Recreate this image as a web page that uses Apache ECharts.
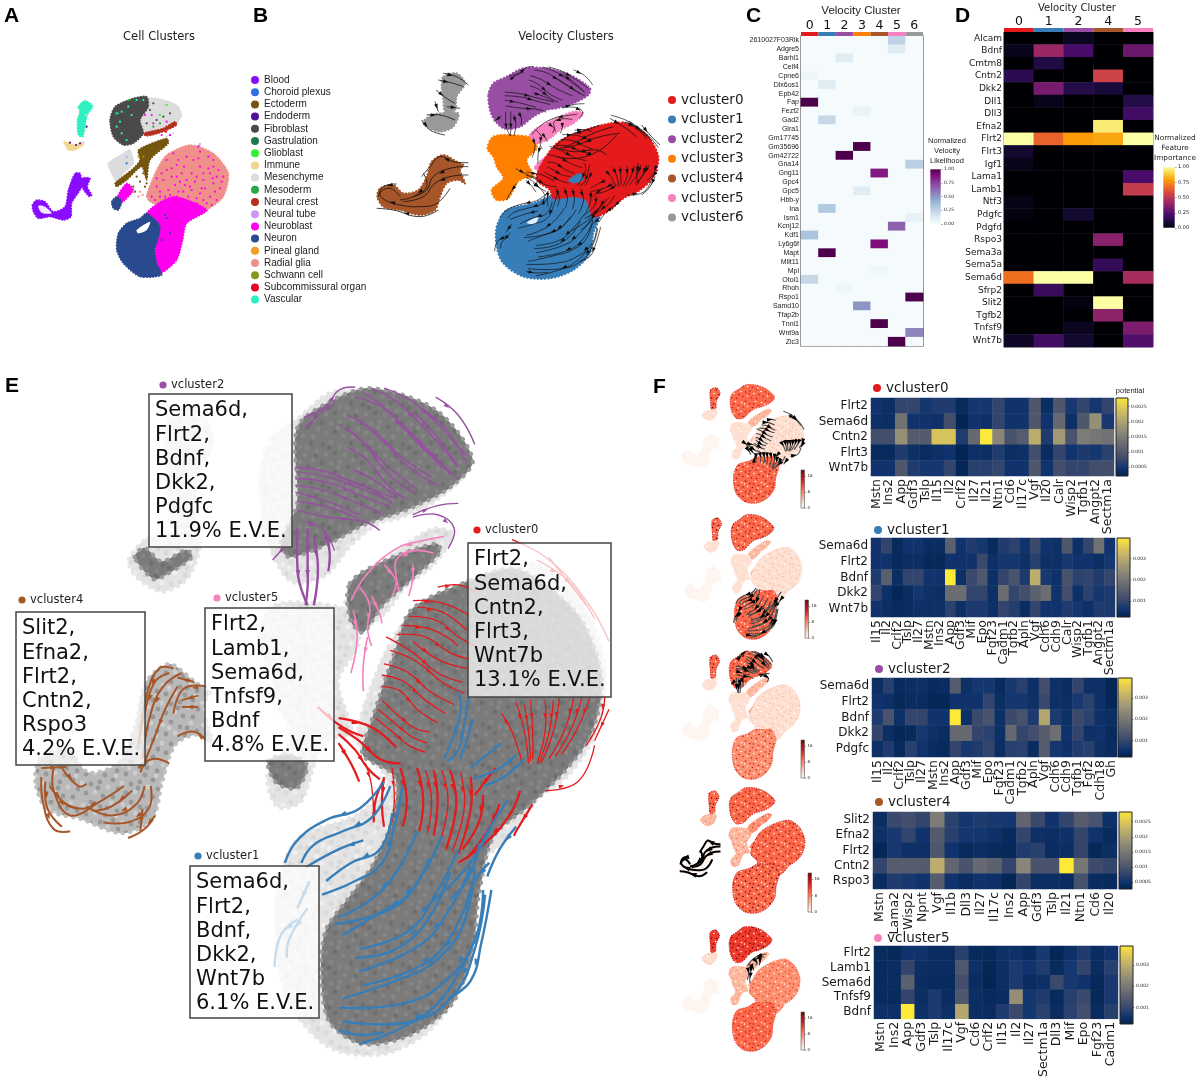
<!DOCTYPE html>
<html><head><meta charset="utf-8">
<style>html,body{margin:0;padding:0;background:#fff}#c{width:1200px;height:1080px}</style>
<script src="https://cdn.jsdelivr.net/npm/echarts@6/dist/echarts.min.js"></script>
</head><body><div id="c"></div>
<script>
// ---------- data ----------
const clusterNames=['vcluster0','vcluster1','vcluster2','vcluster3','vcluster4','vcluster5','vcluster6'];
const clusterColors=['#e41a1c','#377eb8','#984ea3','#ff7f00','#a65628','#f781bf','#999999'];
const cellTypes=['Blood','Choroid plexus','Ectoderm','Endoderm','Fibroblast','Gastrulation','Glioblast','Immune','Mesenchyme','Mesoderm','Neural crest','Neural tube','Neuroblast','Neuron','Pineal gland','Radial glia','Schwann cell','Subcommissural organ','Vascular'];
const cellColors=['#8a0cff','#2f6fe8','#75560f','#55109a','#4a4a4a','#1f7a4f','#35ee35','#f3d68f','#dcdcdc','#2ca548','#b5301f','#cc99ee','#ff00ee','#2a4a8f','#f0a020','#ef918a','#7f9a20','#e8002a','#2ff0c0'];
// panel A outlines
const aVascular=[[235,320],[255,302],[278,318],[262,345],[255,380],[248,410],[235,405],[232,360],[240,335]];
const aImmune=[[192,425],[205,428],[225,435],[250,425],[252,432],[225,450],[205,450]];
const aBlood=[[97,615],[110,600],[135,605],[160,635],[195,620],[205,570],[225,520],[240,520],[245,560],[215,610],[213,650],[190,660],[150,650],[115,655],[100,635]];
const aBloodBranch=[[245,535],[270,535],[262,560],[275,585],[268,590],[248,565]];
const aBloodHole=[[115,618],[135,620],[155,640],[125,638]];
const aMesenTop=[[420,300],[470,295],[530,315],[545,345],[525,375],[470,395],[430,405],[400,380],[420,340]];
const aFibro=[[330,360],[345,320],[400,295],[440,290],[445,320],[420,360],[430,400],[400,430],[370,435],[340,410]];
const aCrest=[[430,400],[490,385],[525,365],[530,375],[490,395],[440,408]];
const aMesenLow=[[325,490],[370,460],[390,450],[400,490],[370,520],[350,545],[330,510]];
const aEcto=[[345,550],[400,505],[420,480],[415,450],[500,415],[505,430],[450,480],[440,540],[425,500],[380,540],[350,560]];
const aNeuroSmall=[[350,595],[380,550],[400,570],[375,600],[360,610]];
const aNeuronSmall=[[335,605],[350,590],[365,605],[355,630],[340,625]];
const aGlia=[[440,585],[470,510],[500,465],[570,435],[640,460],[685,520],[670,590],[620,630],[560,650],[520,620],[460,610],[445,600]];
const aNeuroBig=[[440,640],[520,590],[620,630],[560,670],[548,720],[530,780],[480,820],[465,780],[470,700]];
const aNeuron=[[355,700],[380,670],[420,655],[440,640],[480,680],[465,750],[470,790],[485,825],[420,830],[370,790],[350,750]];
const aNeuronHole=[[410,690],[450,665],[440,690],[415,700]];
const cellDots={
 'Blood':[[268,580],[272,585],[250,540],[262,545]],
 'Choroid plexus':[[380,490],[510,405]],
 'Ectoderm':[[420,545],[430,520],[435,560],[400,560],[440,550],[410,530],[405,575]],
 'Endoderm':[[210,428],[240,430],[228,435],[260,380]],
 'Fibroblast':[[450,330],[470,360],[490,350],[440,370],[510,340],[460,310]],
 'Gastrulation':[[405,305],[420,300],[375,335],[345,345]],
 'Glioblast':[[480,345],[385,300],[500,315]],
 'Immune':[[258,345]],
 'Mesenchyme':[[500,410],[520,400]],
 'Mesoderm':[[355,340],[480,370],[460,380]],
 'Neural crest':[[440,400],[470,395],[500,380],[520,370],[490,388],[510,375]],
 'Neural tube':[[597,437],[600,432],[380,470]],
 'Neuroblast':[[500,480],[530,495],[560,470],[600,455],[625,470],[640,480],[655,510],[630,520],[600,500],[575,520],[545,520],[515,530],[490,540],[470,560],[505,570],[540,545],[570,560],[610,540],[640,550],[660,565],[630,590],[600,580],[565,590],[530,590],[500,600],[480,590],[455,590],[590,610],[620,610],[650,600],[545,610],[595,440],[520,460],[610,520],[585,545],[550,575],[525,555],[470,535],[650,530],[670,530],[615,565],[580,480],[455,345],[460,370],[435,345],[500,365],[485,405],[510,405],[535,480],[552,500],[590,530],[625,505],[638,535],[605,565],[590,595],[575,570],[555,555],[535,575],[520,600],[510,585],[495,590],[480,575],[465,600],[540,600],[555,620],[575,625],[600,622],[635,615],[610,600],[645,575],[665,545],[640,500],[560,540],[530,530],[500,510],[485,520],[515,505],[595,475]],
 'Neuron':[[500,655],[495,645],[510,700],[485,720]],
 'Pineal gland':[[415,470]],
 'Radial glia':[[420,575],[428,585],[415,590],[400,575]],
 'Schwann cell':[[430,470]],
 'Subcommissural organ':[[498,395]],
 'Vascular':[[350,340],[365,335],[385,320],[410,300],[360,365],[395,345],[365,400],[380,420],[430,300],[350,380]]
};
// shared embedding outlines
const regGrayTop=[[250,170],[290,160],[315,190],[290,230],[285,270],[255,275],[250,240],[245,200]];
const regGrayLow=[[240,280],[295,280],[280,320],[240,335],[200,320],[190,305],[215,285]];
const regBrown=[[52,530],[60,505],[100,495],[130,520],[175,510],[200,470],[215,425],[250,405],[290,425],[310,435],[300,450],[315,490],[295,480],[260,490],[240,530],[225,570],[180,585],[120,570],[70,560]];
const regPurple=[[385,225],[400,190],[440,170],[490,145],[560,145],[630,165],[690,205],[685,225],[640,250],[590,265],[560,270],[520,290],[480,320],[430,325],[395,285]];
const regPink=[[510,345],[530,325],[590,295],[640,275],[670,280],[640,310],[600,330],[570,355],[530,370]];
const regPinkSmall=[[525,440],[560,410],[565,430],[530,450]];
const regOrange=[[382,385],[400,350],[450,345],[520,355],[530,385],[500,420],[520,470],[490,475],[470,490],[445,535],[410,540],[395,510],[430,475],[410,440],[400,410]];
const regRed=[[540,440],[590,370],[660,335],[750,310],[800,310],[860,345],[895,410],[880,470],[840,510],[790,535],[750,570],[700,590],[680,540],[640,530],[580,535],[570,510],[530,480]];
const regBlue=[[410,620],[440,570],[520,550],[570,530],[640,530],[690,530],[720,580],[700,640],[690,700],[640,750],[570,775],[490,770],[430,730],[410,680]];
const regBlueIsland=[[625,480],[660,460],[670,480],[640,490]];
const regHole=[[500,608],[535,590],[525,612]];
// panel E darker cell masses
const darkPurple=[[439,179],[487,154],[548,141],[645,162],[699,209],[669,234],[609,255],[536,272],[487,289],[427,302],[415,289],[439,251]];
const darkPink=[[517,327],[566,306],[645,289],[651,297],[609,323],[566,348],[536,374],[517,361]];
const darkGray=[[199,302],[214,293],[239,306],[275,295],[284,302],[245,319],[227,323]];
const darkTip=[[396,496],[427,490],[454,500],[439,522],[408,517]];
const darkMain=[[584,391],[608,352],[687,326],[760,313],[820,335],[863,365],[890,417],[875,469],[839,503],[784,538],[730,568],[708,624],[699,675],[669,727],[608,757],[536,766],[487,745],[475,703],[481,658],[518,624],[548,598],[578,555],[584,512],[536,490],[548,460],[566,425]];
// streamlines of panel B and thumbnails
const streamsRed=[[[750,295],[790,320],[830,350]],[[845,315],[870,345],[900,375]],[[800,305],[830,325],[860,355]],[[720,315],[680,330],[630,345],[590,375]],[[760,320],[700,340],[640,370],[600,385]],[[780,340],[720,350],[650,375],[610,385]],[[580,380],[640,395],[710,390],[740,405]],[[770,345],[720,390],[650,415],[590,410]],[[860,435],[845,470],[830,495]],[[835,430],[830,465],[835,490]],[[885,470],[870,500],[845,525]]];
const streamsBrown=[[[325,428],[280,425],[240,410],[210,440],[185,470]],[[325,440],[270,445],[220,470],[200,510],[160,530]],[[325,465],[270,470],[225,490],[190,530],[130,545]],[[270,505],[230,550],[180,560],[120,555],[75,540],[60,520],[90,505],[120,530]],[[235,570],[180,590],[100,570],[50,565]],[[110,492],[70,500],[55,530]],[[190,460],[200,500],[160,530],[120,540]]];
const streamsGray=[[[250,160],[290,170],[325,195]],[[235,180],[280,190],[310,200]],[[228,210],[260,235],[285,250]],[[225,245],[235,275]],[[185,300],[210,330],[255,345]],[[200,285],[240,285],[285,300]],[[260,260],[300,265]]];
const streamsOrange=[[[470,490],[450,520],[440,540]],[[520,490],[540,505],[555,525]]];
// streamlines
const ePurple=[[[930,40],[1000,70],[1060,120],[1130,190]],[[1055,60],[1110,100],[1150,165]],[[900,40],[960,70],[1030,130],[1110,215]],[[860,60],[930,85],[1000,150],[1090,225]],[[840,100],[900,130],[970,190],[1050,240]],[[835,130],[880,160],[940,230],[1000,270]],[[840,170],[890,200],[940,255],[980,285]],[[855,220],[900,240],[960,280]],[[960,110],[1030,170],[1070,210],[1110,240]],[[1000,90],[1060,150],[1110,215]],[[715,215],[790,225],[860,250],[960,285]],[[715,240],[800,250],[880,280],[940,300]],[[715,270],[790,290],[870,320]],[[720,310],[790,325],[880,335],[920,355]],[[1000,320],[1060,300],[1110,295]],[[1000,325],[1060,320],[1100,350],[1085,395]],[[735,105],[790,80],[820,45],[860,38]],[[740,130],[770,100],[810,75]],[[700,380],[660,420]]];
const ePurpleExtra=[[[880,50],[940,90],[1010,160],[1070,215]],[[820,120],[870,150],[930,205],[1010,265]],[[1020,85],[1080,130],[1130,205]],[[870,110],[930,160],[990,215],[1060,255]],[[845,245],[900,265],[950,295]],[[715,225],[800,238],[880,265],[950,292]],[[715,255],[800,270],[880,300],[930,320]],[[720,290],[800,305],[870,330]],[[730,335],[780,350],[810,400]],[[990,135],[1050,190],[1090,230]]];
const ePurpleThick=[[[720,350],[720,430],[725,470],[745,520]],[[745,350],[745,420],[745,480],[740,520]],[[760,370],[770,440],[760,520]],[[785,355],[798,400],[795,445]]];
const ePink=[[[1075,368],[1020,378],[960,395],[890,450],[850,510]],[[1050,405],[1000,400],[960,420],[960,470],[950,500]],[[1000,430],[1000,460],[990,500]],[[930,430],[960,465],[965,490]],[[870,480],[895,520],[890,570],[900,610]],[[900,500],[920,540],[925,560]],[[855,530],[865,590],[850,670]],[[890,590],[880,650],[880,710]]];
const eRed=[[[1000,510],[1070,515],[1140,545]],[[990,545],[1060,555],[1110,590],[1150,610]],[[960,585],[1030,590],[1090,625],[1140,640]],[[935,590],[1000,625],[1060,670],[1120,690]],[[930,650],[990,670],[1040,710],[1100,740]],[[925,700],[970,710],[1010,750],[1060,780]],[[925,730],[960,760],[1000,790],[1040,800]],[[910,770],[950,800],[990,830],[1030,845]],[[1060,480],[1110,475],[1150,490]],[[1240,375],[1330,420],[1420,510],[1475,600]],[[1300,420],[1380,470],[1440,550]],[[1330,415],[1420,520]],[[1215,760],[1240,800],[1265,870]],[[1250,735],[1270,800],[1280,870]],[[1285,730],[1290,800],[1290,860]],[[1320,730],[1320,800],[1300,870]],[[1355,725],[1340,800],[1310,870]],[[1390,720],[1370,790],[1330,860]],[[1430,720],[1400,790],[1360,850]],[[1465,720],[1455,770],[1420,830]],[[1475,750],[1440,820]],[[1320,930],[1400,910],[1440,830]]];
const eRedExtra=[[[1010,525],[1070,535],[1130,575]],[[975,565],[1050,575],[1110,610]],[[945,620],[1010,645],[1070,690],[1125,715]],[[925,675],[980,690],[1030,730],[1080,760]],[[1000,600],[1060,640],[1130,660]],[[915,750],[955,780],[995,810],[1035,825]],[[1270,740],[1280,800],[1285,865]],[[1340,730],[1330,800],[1305,870]],[[1410,720],[1385,790],[1345,855]],[[885,870],[900,920],[905,1000]],[[950,880],[955,950],[950,1000]],[[1030,885],[1045,950],[1035,1025]],[[1070,885],[1085,955],[1065,1045]],[[1115,890],[1125,965],[1095,1065]]];
const eRedThick=[[[820,790],[870,820],[920,860],[970,870]],[[820,805],[860,840],[890,880],[920,905]],[[820,825],[850,870],[870,910]],[[820,770],[900,790],[960,835]],[[770,745],[830,790],[880,810]],[[905,1000],[910,950],[930,905]],[[930,900],[925,960],[930,1010]],[[970,880],[985,950],[975,1010]],[[1010,880],[1025,950],[1015,1020]],[[1050,885],[1060,950],[1050,1030]],[[1090,885],[1105,960],[1080,1060]],[[1140,900],[1140,970],[1110,1070]],[[1170,940],[1160,1000],[1120,1060]],[[1210,960],[1180,1020],[1130,1080]],[[1260,930],[1230,990],[1170,1050],[1110,1090]],[[1290,960],[1250,1020],[1245,1030]],[[1200,880],[1150,940]]];
const eBlueShort=[[[1110,710],[1115,760],[1090,830],[1075,860]],[[1135,720],[1125,780],[1110,840],[1085,865]],[[1145,770],[1130,820],[1115,860]],[[1215,825],[1180,850],[1140,880]],[[1250,850],[1210,880],[1145,905]],[[1270,860],[1220,900],[1170,920]]];
const eBlue=[[[930,910],[870,970],[790,995],[720,1040],[690,1090]],[[945,920],[900,990],[830,1020],[760,1050],[730,1090]],[[880,1040],[820,1060],[740,1100]],[[950,980],[920,1060],[850,1090],[790,1130]],[[975,920],[955,1010],[925,1090],[860,1130],[780,1160]],[[1010,1020],[960,1110],[900,1170],[820,1210]],[[1070,1030],[1020,1120],[950,1190],[810,1225]],[[1110,1060],[1060,1150],[990,1240],[870,1280]],[[1140,1100],[1090,1190],[1020,1270],[870,1330]],[[1150,1100],[1120,1230],[1050,1310],[960,1350],[830,1390]],[[1170,1150],[1150,1260],[1080,1350],[980,1400],[820,1410]],[[1175,1160],[1150,1280],[1100,1380],[1000,1440],[830,1440]],[[1130,1300],[1060,1400],[960,1460],[870,1490]],[[1190,1150],[1165,1270],[1140,1350],[1085,1390]],[[1250,1010],[1210,1060],[1180,1120]],[[1230,950],[1170,1040],[1130,1130],[1090,1170]],[[1185,1090],[1150,1130],[1130,1180]],[[820,1460],[870,1470],[930,1465]],[[1190,1010],[1130,1100],[1040,1180]],[[750,1130],[720,1190]],[[720,1215],[680,1250],[665,1320]],[[745,1190],[700,1260],[695,1300]],[[1040,1080],[990,1160],[920,1200],[830,1250]],[[1090,1110],[1040,1210],[960,1280],[860,1300]],[[1130,1180],[1070,1280],[990,1330],[880,1360]]];
const eBrown=[[[420,660],[385,660],[355,720],[340,800]],[[440,670],[395,700],[365,760],[345,860]],[[430,700],[400,750],[375,810],[340,890]],[[500,700],[445,705],[420,760]],[[480,720],[440,730]],[[480,745],[440,745]],[[500,820],[470,800],[430,810]],[[470,690],[430,680]],[[300,920],[250,950],[200,970],[150,955]],[[350,920],[330,960],[270,985],[210,965]],[[365,920],[360,970],[310,1000],[250,1000]],[[375,985],[350,1015],[310,1035]],[[345,970],[340,1020]],[[100,900],[105,960],[130,1015],[170,1020]],[[130,880],[130,930],[170,985],[230,960]],[[150,880],[190,920],[210,915]],[[120,920],[160,960],[190,970]],[[100,880],[160,878]],[[335,880],[370,860],[410,870]],[[410,670],[375,690],[350,760],[335,830]],[[320,930],[270,965],[225,975]],[[110,910],[115,970],[150,1010]]];
// C heatmap
const cGenes=['2610027F03Rik','Adgre5','Barhl1','Celf4','Cpne6','Dlx6os1','Epb42','Fap','Fezf2','Gad2','Glra1','Gm17745','Gm35696','Gm42722','Gna14','Gng11','Gpc4','Gpc5','Hbb-y','Ina','Ism1','Kcnj12','Kdf1','Ly6g6f','Mapt','Mllt11','Mpl','Otol1','Rhoh','Rspo1','Samd10','Tfap2b','Tnni1','Wnt9a','Zic3'];
const cColumns=['0','1','2','3','4','5','6'];
const cNonZero=[['2610027F03Rik',5,.25],['Adgre5',5,.12],['Barhl1',2,.12],['Cpne6',0,.04],['Dlx6os1',1,.12],['Fap',0,1],['Fezf2',3,.07],['Gad2',1,.22],['Gm35696',3,1],['Gm42722',2,1],['Gna14',6,.27],['Gng11',4,.85],['Gpc5',3,.12],['Ina',1,.3],['Ism1',6,.08],['Kcnj12',5,.65],['Kdf1',0,.33],['Ly6g6f',4,.88],['Mapt',1,1],['Mpl',4,.03],['Otol1',0,.22],['Rhoh',2,.04],['Rspo1',6,1],['Samd10',3,.5],['Tnni1',4,1],['Wnt9a',6,.55],['Zic3',5,1]];
// D heatmap
const dGenes=['Alcam','Bdnf','Cmtm8','Cntn2','Dkk2','Dll1','Dll3','Efna2','Flrt2','Flrt3','Igf1','Lama1','Lamb1','Ntf3','Pdgfc','Pdgfd','Rspo3','Sema3a','Sema5a','Sema6d','Sfrp2','Slit2','Tgfb2','Tnfsf9','Wnt7b'];
const dColumns=['0','1','2','4','5'];
const dValues=[[0,0,.05,0,0],[.04,.42,.22,0,.3],[0,.12,0,0,0],[.15,0,0,.55,0],[0,.33,.13,.1,0],[0,.04,0,0,.13],[0,0,0,0,.2],[0,0,0,.95,0],[1,.65,.78,.8,1],[.08,0,0,0,0],[.04,0,0,0,0],[0,0,0,0,.22],[0,0,0,0,.52],[.03,0,0,0,0],[.02,0,.08,0,0],[0,0,0,0,0],[0,0,0,.37,0],[0,0,0,0,0],[0,0,0,.17,0],[.68,1,1,0,.45],[0,.18,0,0,0],[0,0,.02,1,0],[0,0,0,.38,0],[0,0,.05,0,.34],[.06,.2,.08,0,.24]];
// F heatmaps (fraction of each colour bar)
const f0Cols=['Mstn','Ins2','App','Gdf3','Tslp','Il15','Il2','Crlf2','Il27','Il21','Ntn1','Cd6','Il17c','Vgf','Il20','Calr','Wisp2','Tgfb1','Angpt2','Sectm1a'];
const f0Rows=['Flrt2','Sema6d','Cntn2','Flrt3','Wnt7b'];
const f0Vals=[[.1,.07,.2,.2,.12,.15,.15,.05,.12,.12,.2,.1,.1,.3,.07,.3,.13,.2,.12,.2],[.08,.07,.45,.1,.1,.08,.25,.02,.1,.08,.2,.1,.1,.3,.1,.4,.08,.3,.6,.13],[.25,.25,.6,.32,.32,.85,.85,.15,.4,1,.55,.27,.33,.75,.15,.65,.28,.5,.47,.45],[.05,.05,.15,.08,.06,.08,.1,.02,.08,.07,.15,.07,.08,.25,.06,.2,.1,.14,.12,.18],[.1,.1,.3,.15,.12,.12,.2,.03,.17,.17,.2,.1,.1,.3,.1,.25,.2,.2,.25,.25]];
const f1Cols=['Il15','Il2','Crlf2','Tslp','Il27','Mstn','Ins2','App','Gdf3','Mif','Epo','Fgf23','Cadm1','Tgfb2','Apln','Vgf','Cdh6','Cdh9','Calr','Wisp2','Tgfb1','Angpt2','Sectm1a'];
const f1Rows=['Sema6d','Flrt2','Bdnf','Dkk2','Wnt7b'];
const f1Vals=[[.1,.2,.05,.1,.1,.06,.06,.35,.1,.15,.12,.05,.15,.18,.1,.22,.1,.08,.3,.08,.2,.45,.1],[.1,.1,.05,.07,.07,.04,.04,.1,.1,.1,.22,.08,.12,.12,.08,.17,.08,.08,.13,.1,.1,.07,.12],[.15,.35,.07,.2,.2,.1,.1,1,.08,.22,.3,.08,.2,.28,.14,.75,.13,.09,.27,.18,.2,.15,.2],[.2,.08,.03,.06,.12,.08,.07,.42,.42,.2,.2,.08,.42,.2,.25,.35,.42,.1,.25,.08,.18,.12,.14],[.1,.07,.05,.06,.08,.08,.08,.18,.08,.14,.14,.08,.2,.16,.06,.2,.1,.1,.15,.12,.08,.15,.14]];
const f2Cols=['Il15','Il2','Crlf2','Tslp','Il27','Mstn','Ins2','App','Gdf3','Mif','Epo','Fgf23','Cadm1','Tgfb2','Apln','Vgf','Cdh6','Cdh9','Tgfb1','Fgf2','Cdh18','Gh'];
const f2Rows=['Sema6d','Flrt2','Bdnf','Dkk2','Pdgfc'];
const f2Vals=[[.07,.17,.05,.07,.08,.05,.06,.33,.08,.12,.12,.05,.13,.17,.08,.25,.08,.06,.2,.08,.08,.03],[.1,.08,.04,.06,.06,.03,.03,.1,.1,.1,.2,.07,.12,.12,.08,.22,.08,.07,.13,.18,.09,.03],[.15,.28,.08,.2,.2,.1,.1,1,.08,.22,.28,.08,.22,.27,.14,.72,.14,.08,.22,.18,.09,.07],[.2,.07,.03,.05,.12,.08,.06,.4,.4,.2,.18,.08,.4,.2,.25,.33,.43,.1,.2,.08,.1,.05],[.08,.15,.05,.17,.1,.06,.05,.2,.13,.15,.2,.07,.17,.18,.06,.33,.12,.09,.15,.17,.08,.06]];
const f4Cols=['Mstn','Lama2','Wisp2','Npnt','Vgf','Il1b','Dll3','Il27','Il17c','Ins2','App','Gdf3','Tslp','Il21','Ntn1','Cd6','Il20'];
const f4Rows=['Slit2','Efna2','Flrt2','Cntn2','Rspo3'];
const f4Vals=[[.07,.22,.25,.2,.5,.18,.12,.15,.13,.12,.38,.22,.1,.2,.33,.28,.08],[.08,.13,.2,.1,.32,.17,.12,.12,.09,.05,.2,.08,.07,.09,.2,.1,.05],[.03,.13,.08,.08,.3,.1,.05,.07,.05,.04,.15,.17,.06,.07,.2,.04,.07],[.2,.33,.33,.32,.75,.38,.28,.4,.35,.2,.55,.28,.28,1,.47,.23,.2],[.06,.15,.13,.1,.33,.1,.06,.1,.08,.03,.2,.07,.07,.06,.27,.06,.05]];
const f5Cols=['Mstn','Ins2','App','Gdf3','Tslp','Il17c','Vgf','Cd6','Crlf2','Il15','Il2','Il27','Sectm1a','Dll3','Mif','Epo','Fgf23','Cadm1'];
const f5Rows=['Flrt2','Lamb1','Sema6d','Tnfsf9','Bdnf'];
const f5Vals=[[.05,.04,.1,.1,.06,.06,.17,.05,.04,.08,.08,.05,.13,.03,.08,.15,.06,.1],[.05,.06,.2,.07,.06,.06,.3,.08,.03,.07,.14,.1,.15,.05,.12,.2,.06,.17],[.05,.06,.35,.06,.05,.05,.25,.06,.02,.07,.14,.06,.08,.22,.13,.1,.04,.13],[.05,.05,.2,.07,.14,.06,.3,.07,.05,.06,.6,.12,.15,.05,.17,.22,.04,.13],[.08,.08,1,.08,.14,.08,.72,.07,.06,.15,.22,.12,.18,.06,.18,.25,.06,.17]];
const potentialTicks=[[.0005,.001,.0015,.002,.0025],[.001,.002,.003],[.001,.002,.003],[.0005,.001,.0015,.002,.0025],[.001,.002,.003]];
const potentialRange=[[.0002,.00279],[.00024,.00397],[.00023,.00393],[.00027,.00282],[.00022,.0039]];
const normTicks=[0,.25,.5,.75,1];
const countTicks=[0,8,16];
// thumbnail expression level of each region: grayTop, grayLow, brown, purple, pink, orange, red, blue
const thumbLevels=[[.7,.12,.04,.55,.25,.1,.14,.62],[.7,.12,.04,.68,.25,.1,.16,.55],[.7,.12,.04,.62,.25,.12,.18,.52],[.7,.3,.04,.68,.5,.38,.65,.7],[.72,.22,.04,.72,.35,.25,.5,.6]];
// box texts
const eBoxes=[
 {name:'vcluster2',c:2,genes:'Sema6d,\nFlrt2,\nBdnf,\nDkk2,\nPdgfc\n11.9% E.V.E.'},
 {name:'vcluster0',c:0,genes:'Flrt2,\nSema6d,\nCntn2,\nFlrt3,\nWnt7b\n13.1% E.V.E.'},
 {name:'vcluster4',c:4,genes:'Slit2,\nEfna2,\nFlrt2,\nCntn2,\nRspo3\n4.2% E.V.E.'},
 {name:'vcluster5',c:5,genes:'Flrt2,\nLamb1,\nSema6d,\nTnfsf9,\nBdnf\n4.8% E.V.E.'},
 {name:'vcluster1',c:1,genes:'Sema6d,\nFlrt2,\nBdnf,\nDkk2,\nWnt7b\n6.1% E.V.E.'}];

// ---------- styles / layout ----------
const DJ='"DejaVu Sans"', AR='"Liberation Sans"';
const BUPU=['#f5fbfc','#e0ecf4','#bfd3e6','#9ebcda','#8c96c6','#8c6bb1','#88419d','#810f7c','#4d004b'];
const INFERNO=['#000004','#1b0c41','#4a0c6b','#781c6d','#a52c60','#cf4446','#ed6925','#fb9b06','#f7d13d','#fcffa4'];
const CIVIDIS=['#00224e','#123570','#3b496c','#575d6d','#707173','#8a8678','#a59c74','#c3b369','#e1cc55','#fee838'];
const REDS=['#fff5f0','#fee0d2','#fcbba1','#fc9272','#fb6a4a','#ef3b2c','#cb181d','#a50f15','#67000d'];
const EXT_X=[52,895], EXT_Y=[140,770], E8_X=[85,1475], E8_Y=[38,1496];
const TILE=[[3,5],[11,2],[20,7],[31,3],[37,11],[6,14],[15,13],[25,15],[33,20],[2,23],[11,24],[20,22],[28,27],[38,29],[6,33],[15,32],[23,36],[33,37],[9,8],[27,8],[18,28],[36,16]];
function tile(bg,dot,r,size,dot2){const s=size||40,k=s/40,c=document.createElement('canvas');c.width=c.height=s;const g=c.getContext('2d');
 g.fillStyle=bg;g.fillRect(0,0,s,s);TILE.forEach((p,i)=>{g.fillStyle=(dot2&&i%3===0)?dot2:dot;g.beginPath();g.arc(p[0]*k,p[1]*k,r,0,7);g.fill();});return {image:c,repeat:'repeat'};}
const grids=[],xAxes=[],yAxes=[],series=[],visualMaps=[],graphics=[];
function panel(left,top,width,height,xr,yr){const i=grids.length;grids.push({left,top,width,height});
 xAxes.push({type:'value',gridIndex:i,min:xr[0],max:xr[1],show:false});
 yAxes.push({type:'value',gridIndex:i,min:yr[0],max:yr[1],inverse:true,show:false});return i;}
function poly(g,pts,o){series.push({type:'custom',name:o.name,xAxisIndex:g,yAxisIndex:g,data:pts,encode:{x:0,y:1},silent:true,animation:false,clip:false,z:o.z||2,itemStyle:{color:typeof o.fill==='string'?o.fill:'#999'},
 renderItem:(p,api)=>{if(p.dataIndex)return;return {type:'polygon',shape:{points:pts.map(q=>api.coord(q)),smooth:o.smooth==null?.3:o.smooth},
  style:{fill:o.fill,stroke:o.stroke||null,lineWidth:o.lw||0,lineDash:o.dash||null,lineCap:'round'}};}});}
function streams(g,list,o){series.push({type:'custom',xAxisIndex:g,yAxisIndex:g,data:list.map(s=>s[0]),encode:{x:0,y:1},silent:true,animation:false,clip:false,z:o.z||4,
 renderItem:(p,api)=>{const pts=list[p.dataIndex].map(q=>api.coord(q));const m=Math.floor(pts.length/2),a=pts[m-1],b=pts[m];
  const t=Math.atan2(b[1]-a[1],b[0]-a[0]),cx=(a[0]+b[0])/2,cy=(a[1]+b[1])/2,s=o.arrow;
  const tri=[[cx+s*Math.cos(t),cy+s*Math.sin(t)],[cx-s*Math.cos(t)-.7*s*Math.sin(t),cy-s*Math.sin(t)+.7*s*Math.cos(t)],[cx-s*Math.cos(t)+.7*s*Math.sin(t),cy-s*Math.sin(t)-.7*s*Math.cos(t)]];
  return {type:'group',children:[{type:'polyline',shape:{points:pts,smooth:.45},style:{fill:'none',stroke:o.color,lineWidth:o.lw}},{type:'polygon',shape:{points:tri},style:{fill:o.arrowColor||o.color}}]};}});}
function text(x,y,t,o){graphics.push({type:'text',x,y,z:o.z||120,silent:true,style:Object.assign({text:t,fill:'#111',fontFamily:DJ,fontSize:12,textAlign:'left',textVerticalAlign:'middle'},o)});}
function colorbar(l,t,w,h,colors,min,max,ticks,fmt,fs,border){const i=grids.length;grids.push({left:l,top:t,width:w,height:h});
 xAxes.push({type:'category',gridIndex:i,data:[''],show:false});
 yAxes.push({type:'value',gridIndex:i,min,max,position:'right',splitLine:{show:false},axisLine:{show:false},
  axisTick:{show:true,length:1.5,lineStyle:{color:'#333',width:.5},customValues:ticks},
  axisLabel:{fontSize:fs,color:'#222',fontFamily:DJ,margin:3,customValues:ticks,formatter:fmt}});
 const stops=colors.map((c,k)=>({offset:1-k/(colors.length-1),color:c})).reverse();
 series.push({type:'custom',xAxisIndex:i,yAxisIndex:i,data:[[0,min]],silent:true,animation:false,z:3,
  renderItem:(p)=>{const c=p.coordSys;return {type:'rect',shape:{x:c.x,y:c.y,width:c.width,height:c.height},style:{fill:new echarts.graphic.LinearGradient(0,0,0,1,stops),stroke:border||'#222',lineWidth:border?.6:1}};}});}
function matrixData(vals){const out=[];vals.forEach((r,y)=>r.forEach((v,x)=>out.push([x,y,v])));return out;}
function heat(l,t,w,h,cols,rows,vals,o){const i=grids.length;
 grids.push(Object.assign({left:l,top:t,width:w,height:h},o.grid||{}));
 xAxes.push({type:'category',gridIndex:i,data:cols,position:'bottom',show:o.xShow!==false,axisLine:{show:false},axisTick:{alignWithLabel:true,length:2.5,lineStyle:{color:'#333'}},
  axisLabel:{interval:0,rotate:90,fontSize:12.5,margin:3,color:'#1a1a1a',fontFamily:DJ}});
 yAxes.push({type:'category',gridIndex:i,data:rows,inverse:true,axisLine:{show:false},axisTick:{alignWithLabel:true,length:o.tick||2.5,lineStyle:{color:'#333'}},
  axisLabel:{interval:0,fontSize:o.yfs||12,margin:o.ym||3,color:'#1a1a1a',fontFamily:o.yfam||DJ}});
 const s=series.length;series.push({type:'heatmap',xAxisIndex:i,yAxisIndex:i,data:matrixData(vals),silent:true,animation:false,z:2,emphasis:{disabled:true},progressive:0});return s;}
function strip(l,t,w,h,cols,colors,fs){const i=grids.length;grids.push({left:l,top:t,width:w,height:h});
 xAxes.push({type:'category',gridIndex:i,data:cols,position:'top',axisLine:{show:false},axisTick:{show:false},axisLabel:{interval:0,fontSize:fs,margin:0,color:'#111',fontFamily:DJ}});
 yAxes.push({type:'value',gridIndex:i,min:0,max:1,show:false});
 series.push({type:'bar',xAxisIndex:i,yAxisIndex:i,barWidth:'100%',silent:true,animation:false,data:colors.map(c=>({value:1,itemStyle:{color:c}}))});}

// ---------- panel A ----------
const gA=panel(0,0,370,320,[0,1110],[0,960]);
const aShapes=[[aVascular,18],[aImmune,7],[aBlood,0],[aBloodBranch,0],[aMesenTop,8],[aFibro,4],[aCrest,10],[aMesenLow,8],[aEcto,2],[aNeuroSmall,12],[aNeuronSmall,13],[aGlia,15],[aNeuroBig,12],[aNeuron,13]];
aShapes.forEach(s=>poly(gA,s[0],{fill:cellColors[s[1]],stroke:cellColors[s[1]],lw:1.5,dash:[.5,2.5],smooth:.25}));
poly(gA,aBloodHole,{fill:'#f4e9ff'});poly(gA,aNeuronHole,{fill:'#fff'});
cellTypes.forEach((n,k)=>series.push({type:'scatter',name:n,xAxisIndex:gA,yAxisIndex:gA,data:cellDots[n],symbolSize:2.2,itemStyle:{color:cellColors[k],opacity:1},silent:true,animation:false,z:3}));
// ---------- panel B ----------
const gB=panel(360+EXT_X[0]/3,20+EXT_Y[0]/3,(EXT_X[1]-EXT_X[0])/3,(EXT_Y[1]-EXT_Y[0])/3,EXT_X,EXT_Y);
const gB8=panel(360+EXT_X[0]/3,20+EXT_Y[0]/3,(EXT_X[1]-EXT_X[0])/3,(EXT_Y[1]-EXT_Y[0])/3,E8_X,E8_Y);
const bShapes=[[regGrayTop,6],[regGrayLow,6],[regBrown,4],[regPurple,2],[regBlue,1],[regOrange,3],[regPink,5],[regPinkSmall,5],[regRed,0]];
bShapes.forEach(s=>poly(gB,s[0],{name:clusterNames[s[1]],fill:clusterColors[s[1]],stroke:clusterColors[s[1]],lw:2,dash:[.5,3]}));
poly(gB,regBlueIsland,{fill:clusterColors[1]});poly(gB,regHole,{fill:'#ddeeff'});
[streamsRed,streamsBrown,streamsGray,streamsOrange].forEach(l=>streams(gB,l,{color:'#111',lw:.8,arrow:2.6}));
[eRed,eRedThick,eBlue,eBlueShort,ePurple,ePurpleThick,ePink].forEach(l=>streams(gB8,l,{color:'#111',lw:.7,arrow:2.4}));
// ---------- panel E ----------
const gEb=panel(.6765*EXT_X[0],664,.6765*(EXT_X[1]-EXT_X[0]),174,EXT_X,[405,590]);
const gE=panel(.6765*EXT_X[0],387,.6765*(EXT_X[1]-EXT_X[0]),1.05*(EXT_Y[1]-EXT_Y[0]),EXT_X,EXT_Y);
const gE8=panel(0,370,640,710,[0,1550],[0,1570]);
const lightTile=tile('#e4e4e4','rgba(214,214,214,.8)',2.5,40,'rgba(240,240,240,.9)'), darkTile=tile('#7b7b7b','rgba(146,146,146,.45)',2.4,40,'rgba(98,98,98,.45)'), midTile=tile('#b9b9b9','rgba(130,130,130,.6)',2.4,40,'rgba(220,220,220,.6)');
const elight={fill:lightTile,stroke:'#e6e6e6',lw:4,dash:[.5,7]};
[regGrayTop,regGrayLow,regPurple,regBlue,regOrange,regPink,regRed].forEach(r=>poly(gE,r,elight));
const edark={fill:darkTile,stroke:'#9a9a9a',lw:4,dash:[.5,8],z:3};
[darkPurple,darkPink,darkGray,darkTip,darkMain].forEach(r=>poly(gE,r,edark));
poly(gEb,regBrown,{fill:midTile,stroke:'#c0c0c0',lw:4,dash:[.5,7],z:3});
streams(gE8,eRed,{color:clusterColors[0],lw:1.3,arrow:2.8,z:5});
streams(gE8,eRedExtra,{color:clusterColors[0],lw:1.3,arrow:2.6,z:5});
streams(gE8,eRedThick,{color:clusterColors[0],lw:2.2,arrow:3.4,z:5});
streams(gE8,eBlue,{color:clusterColors[1],lw:2.4,arrow:3.6,z:6});
streams(gE8,eBlueShort,{color:clusterColors[1],lw:2.2,arrow:3,z:6});
streams(gE8,ePurple,{color:clusterColors[2],lw:1.4,arrow:2.8,z:5});
streams(gE8,ePurpleExtra,{color:clusterColors[2],lw:1.2,arrow:2.6,z:5});
streams(gE8,ePurpleThick,{color:clusterColors[2],lw:2.4,arrow:3.4,z:5});
streams(gE8,ePink,{color:clusterColors[5],lw:1.6,arrow:3,z:5});
streams(gE8,eBrown,{color:clusterColors[4],lw:2,arrow:3.2,z:5});
// ---------- thumbnails ----------
const thumbBoxes=[[682,384,122,118],[685,514,117,124],[683,651,117,127],[680,787,125,125],[683,926,117,124]];
const thumbRegions=[[regGrayTop],[regGrayLow],[regBrown],[regPurple],[regPink,regPinkSmall],[regOrange],[regRed],[regBlue]];
const thumbStreams=[[eRed,eRedThick],[eBlue],[ePurple,ePurpleThick],null,[ePink]];
const thumbBars=[[801,470,3.5,38],[805,600,3.5,38],[801,740,3.5,38],[808,873,3.5,39],[801,1012,3.5,38]];
function redShade(v){return REDS[Math.min(8,Math.round(v*8))];}
thumbBoxes.forEach((b,k)=>{const g=panel(b[0],b[1],b[2],b[3],EXT_X,EXT_Y),g8=panel(b[0],b[1],b[2],b[3],E8_X,E8_Y);
 thumbRegions.forEach((rs,j)=>{const v=thumbLevels[k][j];rs.forEach(r=>poly(g,r,{fill:tile(redShade(v*.8),redShade(v*1.35),.8,20,'#fff'),stroke:redShade(v*1.1),lw:1,dash:[.5,2],smooth:.3}));});
 if(thumbStreams[k])thumbStreams[k].forEach(l=>streams(g8,l,{color:'#4a4a4a',lw:1.1,arrow:2.8,arrowColor:'#000',z:5}));
 else streams(g,streamsBrown,{color:'#000',lw:2,arrow:3.4,z:5});
 const c=thumbBars[k];colorbar(c[0],c[1],c[2],c[3],REDS,0,19,countTicks,v=>String(v),4,'#555');
});
// ---------- panels C and D ----------
const cMatrix=cGenes.map(()=>cColumns.map(()=>0));
cNonZero.forEach(r=>{cMatrix[cGenes.indexOf(r[0])][r[1]]=r[2];});
const sC=heat(801,36,122,310,cColumns,cGenes,cMatrix,{xShow:false,yfs:7,yfam:AR,tick:2,ym:2,grid:{show:true,borderColor:'#222',borderWidth:1.2}});
strip(801,32,122,4,cColumns,clusterColors,12.5);
visualMaps.push({show:false,min:0,max:1,seriesIndex:sC,dimension:2,inRange:{color:BUPU}});
colorbar(930,169,11,55,BUPU,0,1,normTicks,v=>v.toFixed(2),4.5,'#fff');
const dStripColors=[0,1,2,4,5].map(c=>clusterColors[c]);
const sD=heat(1004,32,149,315,dColumns,dGenes,dValues,{xShow:false,yfs:9,tick:2,ym:2,grid:{show:true,borderColor:'#444',borderWidth:.8}});
strip(1004,28,149,4,dColumns,dStripColors,12.5);
visualMaps.push({show:false,min:0,max:1,seriesIndex:sD,dimension:2,inRange:{color:INFERNO}});
colorbar(1163,167,12,61,INFERNO,0,1,normTicks,v=>v.toFixed(2),5,'#fff');
// ---------- panel F heatmaps ----------
const fRects=[[871,398,243,78],[871,538,244,79],[872,678,245,79],[873,812,244,77],[874,946,244,78]];
const fBars=[[1116,398,12,78],[1117,538,13,79],[1118,678,14,79],[1119,812,13,77],[1120,946,13,78]];
const fData=[[f0Cols,f0Rows,f0Vals],[f1Cols,f1Rows,f1Vals],[f2Cols,f2Rows,f2Vals],[f4Cols,f4Rows,f4Vals],[f5Cols,f5Rows,f5Vals]];
const fIdx=[];
fData.forEach((d,k)=>{const r=fRects[k];fIdx.push(heat(r[0],r[1],r[2],r[3],d[0],d[1],d[2],{}));
 const b=fBars[k];const rg=potentialRange[k];colorbar(b[0],b[1],b[2],b[3],CIVIDIS,rg[0],rg[1],potentialTicks[k],v=>String(v),4.5);});
visualMaps.push({show:false,min:0,max:1,seriesIndex:fIdx,dimension:2,inRange:{color:CIVIDIS}});

// ---------- text and boxes ----------
[['A',4,16],['B',253,16],['C',746,16],['D',955,16],['E',5,386],['F',653,387]].forEach(l=>text(l[1],l[2],l[0],{fontFamily:AR,fontWeight:'bold',fontSize:21,fill:'#000'}));
text(159,37,'Cell Clusters',{textAlign:'center',fontSize:11.5,fill:'#222'});
text(566,37,'Velocity Clusters',{textAlign:'center',fontSize:11.5,fill:'#222'});
text(861,11,'Velocity Cluster',{textAlign:'center',fontFamily:AR,fontSize:11.5,fill:'#222'});
text(1077,8,'Velocity Cluster',{textAlign:'center',fontSize:10,fill:'#222'});
text(947,151,'Normalized\nVelocity\nLikelihood',{textAlign:'center',fontFamily:AR,fontSize:7.5,lineHeight:10,fill:'#222'});
text(1175,148,'Normalized\nFeature\nImportance',{textAlign:'center',fontSize:7.3,lineHeight:10,fill:'#222'});
text(1130,391,'potential',{textAlign:'center',fontFamily:AR,fontSize:7.5,fill:'#222'});
const eBoxRects=[[149,394,143,153],[468,543,143,154],[16,612,129,153],[205,608,129,153],[190,866,129,152]];
const eDots=[[163,385],[477,530],[22,600],[217,598],[198,856]];
eBoxes.forEach((b,k)=>{const r=eBoxRects[k],d=eDots[k];
 graphics.push({type:'rect',z:110,silent:true,shape:{x:r[0],y:r[1],width:r[2],height:r[3]},style:{fill:'rgba(255,255,255,.72)',stroke:'#444',lineWidth:1.5}});
 text(r[0]+6,r[1]+77.5,b.genes,{fontSize:21,lineHeight:24.2,fill:'#111'});
 graphics.push({type:'circle',z:120,silent:true,shape:{cx:d[0],cy:d[1],r:3.6},style:{fill:clusterColors[b.c]}});
 text(d[0]+8,d[1],b.name,{fontSize:11.5,fill:'#222'});
});
const fTitles=[['vcluster0',0,877,388],['vcluster1',1,878,530],['vcluster2',2,879,669],['vcluster4',4,879,802],['vcluster5',5,878,938]];
fTitles.forEach(t=>{graphics.push({type:'circle',z:120,silent:true,shape:{cx:t[2],cy:t[3],r:4},style:{fill:clusterColors[t[1]]}});
 text(t[2]+9,t[3],t[0],{fontSize:13.5,fill:'#1a1a1a'});});

const chart=echarts.init(document.getElementById('c'),null,{renderer:'canvas'});
chart.setOption({animation:false,backgroundColor:'#fff',grid:grids,xAxis:xAxes,yAxis:yAxes,visualMap:visualMaps,series,
 graphic:{elements:graphics},tooltip:{show:false},
 legend:[
  {data:cellTypes,orient:'vertical',left:251,top:74,padding:0,icon:'circle',itemWidth:8,itemHeight:8,itemGap:.2,selectedMode:false,textStyle:{fontSize:10,lineHeight:12,fontFamily:AR,color:'#222'}},
  {data:clusterNames,orient:'vertical',left:668,top:92,padding:0,icon:'circle',itemWidth:8,itemHeight:8,itemGap:3.6,selectedMode:false,textStyle:{fontSize:13.5,lineHeight:16,fontFamily:DJ,color:'#1a1a1a'}}
 ]});
</script></body></html>
